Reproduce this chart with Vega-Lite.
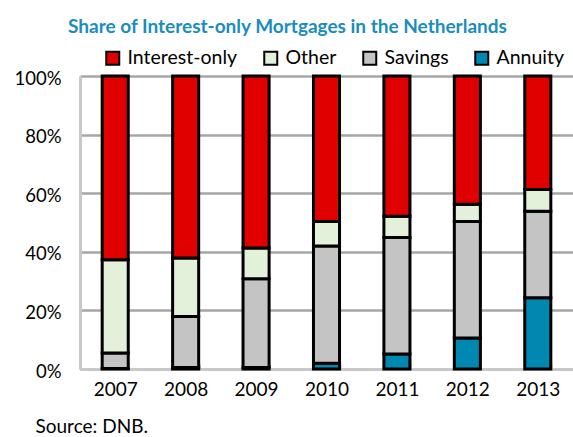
{
  "$schema": "https://vega.github.io/schema/vega-lite/v6.json",
  "width": 493,
  "height": 293,
  "autosize": "none",
  "padding": {"left": 80, "top": 76, "right": 0, "bottom": 68},
  "background": "white",
  "config": {
    "font": "Lato",
    "view": {"stroke": null}
  },
  "title": {
    "text": "Share of Interest-only Mortgages in the Netherlands",
    "anchor": "start",
    "frame": "group",
    "dx": -12,
    "dy": 24,
    "font": "Lato",
    "fontSize": 19,
    "fontWeight": "bold",
    "color": "#1A8DBE",
    "baseline": "alphabetic",
    "offset": 20
  },
  "data": {
    "values": [
      {"year": "2007", "type": "Annuity", "order": 1, "value": 0.2},
      {"year": "2007", "type": "Savings", "order": 2, "value": 5.3},
      {"year": "2007", "type": "Other", "order": 3, "value": 31.8},
      {"year": "2007", "type": "Interest-only", "order": 4, "value": 62.7},
      {"year": "2008", "type": "Annuity", "order": 1, "value": 0.5},
      {"year": "2008", "type": "Savings", "order": 2, "value": 17.4},
      {"year": "2008", "type": "Other", "order": 3, "value": 20.0},
      {"year": "2008", "type": "Interest-only", "order": 4, "value": 62.1},
      {"year": "2009", "type": "Annuity", "order": 1, "value": 0.5},
      {"year": "2009", "type": "Savings", "order": 2, "value": 30.3},
      {"year": "2009", "type": "Other", "order": 3, "value": 10.5},
      {"year": "2009", "type": "Interest-only", "order": 4, "value": 58.7},
      {"year": "2010", "type": "Annuity", "order": 1, "value": 2.0},
      {"year": "2010", "type": "Savings", "order": 2, "value": 40.0},
      {"year": "2010", "type": "Other", "order": 3, "value": 8.3},
      {"year": "2010", "type": "Interest-only", "order": 4, "value": 49.7},
      {"year": "2011", "type": "Annuity", "order": 1, "value": 5.1},
      {"year": "2011", "type": "Savings", "order": 2, "value": 39.8},
      {"year": "2011", "type": "Other", "order": 3, "value": 7.2},
      {"year": "2011", "type": "Interest-only", "order": 4, "value": 47.9},
      {"year": "2012", "type": "Annuity", "order": 1, "value": 10.6},
      {"year": "2012", "type": "Savings", "order": 2, "value": 39.7},
      {"year": "2012", "type": "Other", "order": 3, "value": 5.9},
      {"year": "2012", "type": "Interest-only", "order": 4, "value": 43.8},
      {"year": "2013", "type": "Annuity", "order": 1, "value": 24.3},
      {"year": "2013", "type": "Savings", "order": 2, "value": 29.5},
      {"year": "2013", "type": "Other", "order": 3, "value": 7.5},
      {"year": "2013", "type": "Interest-only", "order": 4, "value": 38.7}
    ]
  },
  "mark": {"type": "bar", "stroke": "black", "strokeWidth": 3},
  "encoding": {
    "x": {
      "field": "year",
      "type": "ordinal",
      "scale": {"paddingInner": 0.63, "paddingOuter": 0.315},
      "axis": {
        "title": "Source: DNB.",
        "titleFont": "Lato",
        "titleFontSize": 19,
        "titleFontWeight": "normal",
        "titleColor": "black",
        "titleAnchor": "start",
        "titleAlign": "left",
        "titleBaseline": "alphabetic",
        "titleX": -45,
        "titleY": 63,
        "titleLimit": 400,
        "labelAngle": 0,
        "labelFont": "Lato",
        "labelFontSize": 19,
        "labelColor": "black",
        "labelBaseline": "alphabetic",
        "labelPadding": 32,
        "tickBand": "extent",
        "ticks": true,
        "tickSize": -6,
        "tickColor": "#C0C0C0",
        "tickWidth": 2,
        "domainColor": "#C8C8C8",
        "domainWidth": 3,
        "grid": false
      }
    },
    "y": {
      "field": "value",
      "type": "quantitative",
      "stack": "zero",
      "scale": {"domain": [0, 100], "nice": false},
      "axis": {
        "title": null,
        "values": [0, 20, 40, 60, 80, 100],
        "labelExpr": "datum.value + '%'",
        "labelFont": "Lato",
        "labelFontSize": 18.5,
        "labelColor": "black",
        "labelPadding": 19,
        "labelOffset": 2,
        "ticks": false,
        "domainColor": "#C8C8C8",
        "domainWidth": 3,
        "grid": true,
        "gridColor": "#A6A6A6",
        "gridWidth": 2.5
      }
    },
    "color": {
      "field": "type",
      "type": "nominal",
      "scale": {
        "domain": ["Interest-only", "Other", "Savings", "Annuity"],
        "range": ["#E00000", "#E3F0DA", "#C4C4C4", "#0088B0"]
      },
      "legend": {
        "title": null,
        "orient": "none",
        "direction": "horizontal",
        "columns": 4,
        "legendX": 23,
        "legendY": -28,
        "columnPadding": 22,
        "labelOffset": 5,
        "symbolType": "square",
        "symbolSize": 169,
        "symbolStrokeColor": "black",
        "symbolStrokeWidth": 2,
        "labelFont": "Lato",
        "labelFontSize": 19.5,
        "labelColor": "black",
        "labelLimit": 300
      }
    },
    "order": {"field": "order", "type": "quantitative"}
  }
}
